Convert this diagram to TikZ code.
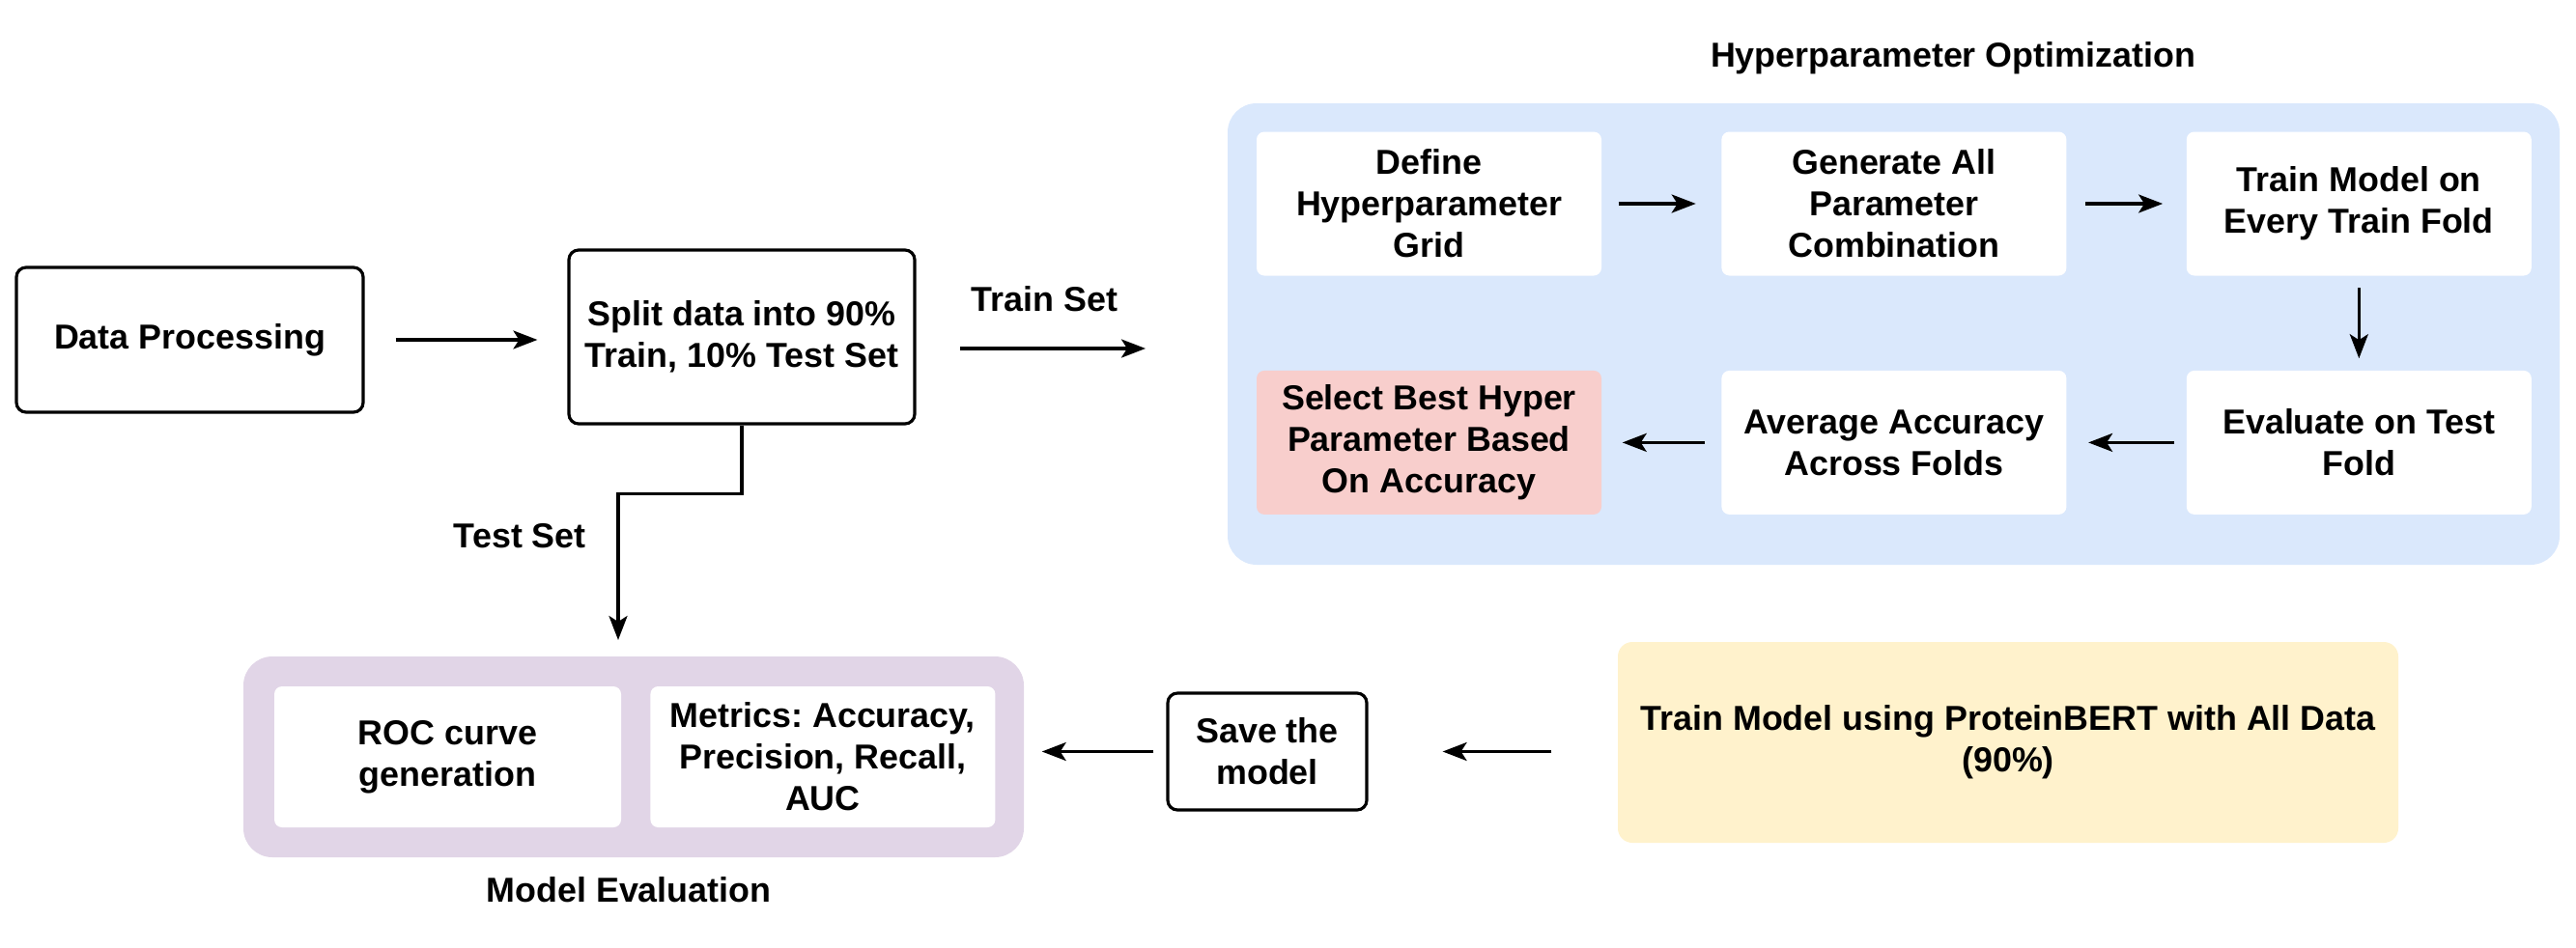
\documentclass[tikz,border=0pt]{standalone}
\usepackage{fontspec}
\setmainfont{Liberation Sans}
\usetikzlibrary{positioning, arrows.meta, calc}
\definecolor{hpblue}{HTML}{DAE8FC}
\definecolor{hpred}{HTML}{F8CECC}
\definecolor{evpurple}{HTML}{E1D5E7}
\definecolor{tryellow}{HTML}{FFF2CC}

\begin{document}
\frenchspacing
\begin{tikzpicture}[
          every node/.style={font=\fontsize{10.2}{12.2}\selectfont\bfseries, align=center},
          plainbox/.style={draw=black, line width=0.9pt, rounded corners=0.1cm, fill=white},
          group/.style={draw=none, rounded corners=0.3cm},
          card/.style={draw=none, fill=white, rounded corners=0.08cm, minimum width=3.57cm, minimum height=1.49cm},
          flow/.style={-{Stealth[length=0.25cm, width=0.19cm, inset=0.06cm]}, line width=0.9pt}]
        \useasboundingbox (0,0) rectangle (26.67,-9.81);
        % left part
        \node[plainbox, minimum width=3.59cm, minimum height=1.50cm] (dp) at (1.965,-3.52) {Data Processing};
        \node[plainbox, minimum width=3.58cm, minimum height=1.80cm] (split) at (7.68,-3.49) {Split data into 90\%\\Train, 10\% Test Set};
        % hyperparameter optimization
        \node[group, fill=hpblue, minimum width=13.79cm, minimum height=4.78cm] (hpo) at (19.605,-3.46) {};
        \node (hpotitle) at (20.22,-0.60) {Hyperparameter Optimization};
        \node[card] (grid) at (14.795,-2.11) {Define\\Hyperparameter\\Grid};
        \node[card, right=1.23cm of grid] (combo) {Generate All\\Parameter\\Combination};
        \node[card, right=1.23cm of combo] (trainfold) {Train Model on\\Every Train Fold};
        \node[card, below=0.97cm of trainfold] (testfold) {Evaluate on Test\\Fold};
        \node[card, below=0.97cm of combo] (avg) {Average Accuracy\\Across Folds};
        \node[card, below=0.97cm of grid, fill=hpred] (best) {Select Best Hyper\\Parameter Based\\On Accuracy};
        % model evaluation
        \node[group, fill=evpurple, minimum width=8.08cm, minimum height=2.08cm] (eval) at (6.56,-7.84) {};
        \node[card, minimum width=3.59cm, minimum height=1.46cm] (roc) at (4.635,-7.84) {ROC curve\\generation};
        \node[card, minimum width=3.57cm, minimum height=1.46cm, right=0.29cm of roc] (metrics) {Metrics: Accuracy,\\Precision, Recall,\\AUC};
        \node (evaltitle) at (6.51,-9.22) {Model Evaluation};
        % final training
        \node[plainbox, minimum width=2.06cm, minimum height=1.21cm] (save) at (13.12,-7.785) {Save the\\model};
        \node[group, fill=tryellow, rounded corners=0.15cm, minimum width=8.08cm, minimum height=2.08cm] (final) at (20.79,-7.69) {Train Model using ProteinBERT with All Data\\(90\%)};
        \coordinate (trainend) at (11.86,-3.61);
        % connectors
        \draw[flow, shorten <=0.32cm, shorten >=0.31cm] (dp.east) -- (dp.east -| split.west);
        \draw[flow, shorten <=0.45cm] (split.east |- trainend) -- (trainend) node[pos=0.56, above=0.25cm] (trainlbl) {Train Set};
        \draw[flow, shorten >=0.17cm] (split.south) -- ++(0,-0.71) -| (6.40,-6.80) node[pos=0.63, left=0.2cm] (testlbl) {Test Set};
        \draw[flow, shorten <=0.17cm, shorten >=0.26cm] (grid) -- (combo);
        \draw[flow, shorten <=0.19cm, shorten >=0.24cm] (combo) -- (trainfold);
        \draw[flow, shorten <=0.12cm, shorten >=0.12cm] (trainfold) -- (testfold);
        \draw[flow, shorten <=0.12cm, shorten >=0.22cm] (testfold) -- (avg);
        \draw[flow, shorten <=0.17cm, shorten >=0.21cm] (avg) -- (best);
        \draw[flow, shorten <=0.68cm, shorten >=0.77cm] (final.west |- save) -- (save.east);
        \draw[flow, shorten <=0.13cm, shorten >=0.18cm] (save.west) -- (save.west -| eval.east);
      \end{tikzpicture}
\end{document}
